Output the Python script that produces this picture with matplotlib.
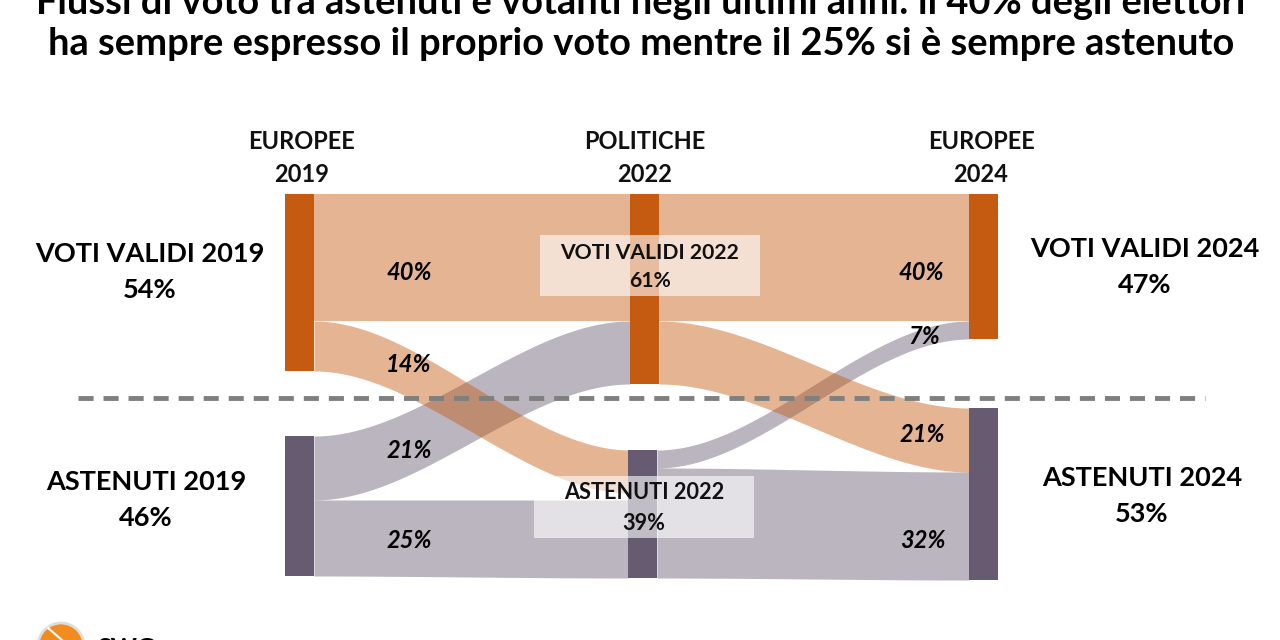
import numpy as np
import matplotlib.pyplot as plt

plt.rcParams['font.family'] = ['Lato', 'DejaVu Sans']

def flussi_chart(title_lines):
    # Nodes and flows
    nodes = [
        (285, 314, 194, 371, '#C55A11'),
        (285, 314, 436, 576, '#675B71'),
        (630, 659, 194, 384, '#C55A11'),
        (628, 657, 450, 578, '#675B71'),
        (969, 998, 194, 339, '#C55A11'),
        (969, 998, 408, 580, '#675B71'),
    ]

    flows = [
        (314, 630, 436, 500, 321, 384, '#675B71', '21%', 409, 450),
        (314, 628, 500, 576, 500, 578, '#675B71', '25%', 409, 541),
        (657, 969, 450, 468, 321, 339, '#675B71', '7%', 924, 337),
        (657, 969, 468, 578, 472, 580, '#675B71', '32%', 923, 541),
        (314, 630, 194, 321, 194, 321, '#C55A11', '40%', 409, 272),
        (314, 630, 321, 371, 450, 493, '#C55A11', '14%', 409, 365),
        (659, 969, 194, 321, 194, 321, '#C55A11', '40%', 921, 272),
        (659, 969, 321, 384, 408, 472, '#C55A11', '21%', 922, 434),
    ]

    plt.figure(figsize=(12.8, 6.4), dpi=100)
    plt.axes([0, 0, 1, 1])
    plt.xlim(0, 1280)
    plt.ylim(640, 0)
    plt.axis('off')

    # Draw the flows
    for x0, x1, top0, bot0, top1, bot1, color, label, lx, ly in flows:
        x = np.linspace(x0, x1, 200)
        t = (x - x0) / (x1 - x0)
        s = 3 * t ** 2 - 2 * t ** 3
        plt.fill_between(x, top0 + (top1 - top0) * s, bot0 + (bot1 - bot0) * s,
                         color=color, alpha=0.45, linewidth=0, zorder=1)

    # Draw the nodes
    for x0, x1, y0, y1, color in nodes:
        plt.fill_between([x0, x1], [y0, y0], [y1, y1], color=color, linewidth=0, zorder=2)

    # Boxes behind the 2022 labels
    plt.fill_between([540, 760], [235, 235], [296, 296], color='white', alpha=0.6, linewidth=0, zorder=3)
    plt.fill_between([534, 754], [476, 476], [538, 538], color='white', alpha=0.6, linewidth=0, zorder=3)

    plt.plot([78, 1205], [398, 398], color='#7F7F7F', linewidth=3.5, dashes=(3.1, 2.05), zorder=4)

    for x0, x1, top0, bot0, top1, bot1, color, label, lx, ly in flows:
        plt.text(lx, ly, label, fontsize=17, fontstyle='italic', fontweight='bold',
                 ha='center', va='center', color='black', zorder=5)

    # Column headers
    headers = [(302, 'EUROPEE\n2019'), (645, 'POLITICHE\n2022'), (981, 'EUROPEE\n2024')]
    for x, label in headers:
        plt.text(x, 158, label, fontsize=17, fontweight='bold', ha='center', va='center',
                 linespacing=1.55, color='#111111', zorder=5)

    # Side labels
    sides = [
        (150, 272, 'VOTI VALIDI 2019\n54%'),
        (146, 500, 'ASTENUTI 2019\n46%'),
        (1145, 267, 'VOTI VALIDI 2024\n47%'),
        (1142, 496, 'ASTENUTI 2024\n53%'),
    ]
    for x, y, label in sides:
        plt.text(x, y, label, fontsize=19.5, fontweight='bold', ha='center', va='center',
                 linespacing=1.6, color='black', zorder=5)

    plt.text(650, 267, 'VOTI VALIDI 2022\n61%', fontsize=15.2, fontweight='bold', ha='center', va='center',
             linespacing=1.55, color='#111111', zorder=5)
    plt.text(644, 508, 'ASTENUTI 2022\n39%', fontsize=15.6, fontweight='bold', ha='center', va='center',
             linespacing=1.55, color='#111111', zorder=5)

    # Title, cut by the top edge as in the slide
    plt.text(641, 3, title_lines[0], fontsize=27.4, fontweight='bold', ha='center', va='center', color='black')
    plt.text(641, 44, title_lines[1], fontsize=27.4, fontweight='bold', ha='center', va='center', color='black')

    # Logo at the bottom edge
    logo = plt.Circle((61, 646), 23, facecolor='#F28C1E', edgecolor='#DDDDDD', linewidth=2, zorder=5)
    plt.gca().add_patch(logo)
    plt.plot([48, 62], [628, 640], color='white', linewidth=1.5, zorder=6)
    plt.text(97, 648, 'SWG', fontsize=18, fontweight='bold', ha='left', va='center', color='black')

    plt.savefig('out.png', dpi=100)

# Example usage:
flussi_chart(['Flussi di voto tra astenuti e votanti negli ultimi anni: il 40% degli elettori',
              'ha sempre espresso il proprio voto mentre il 25% si è sempre astenuto'])
